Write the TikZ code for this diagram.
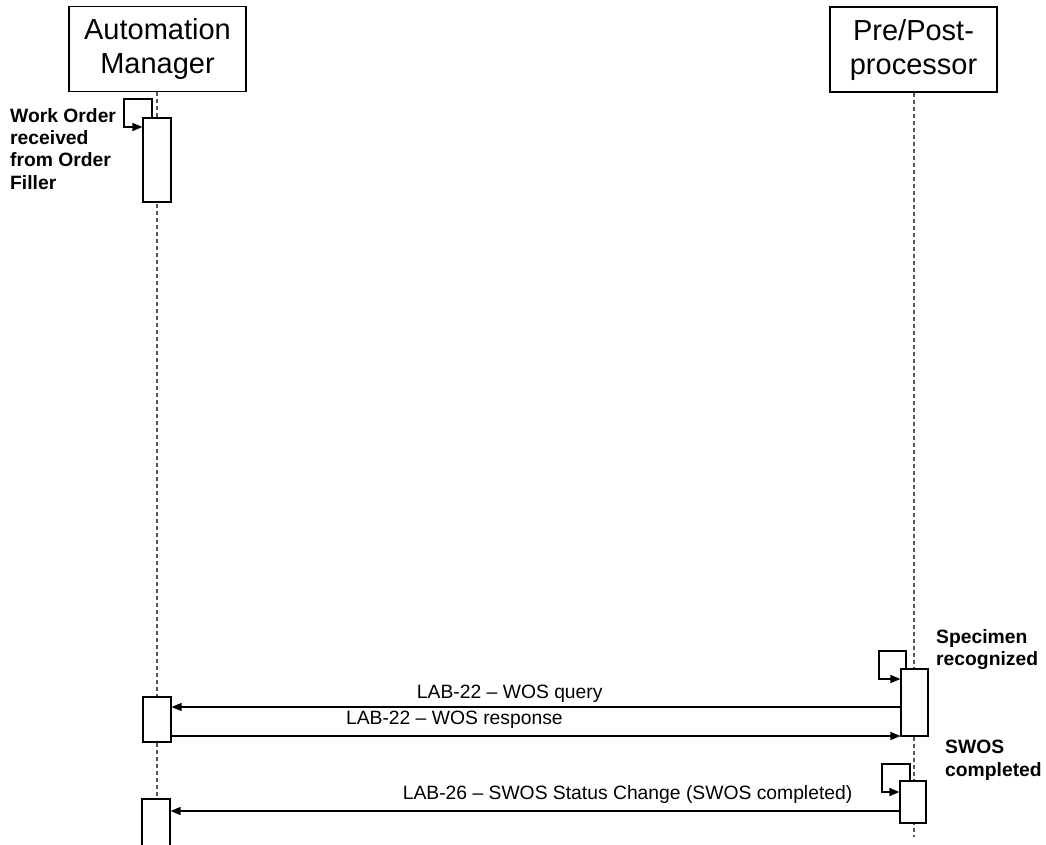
\documentclass[tikz,border=0pt]{standalone}
\usepackage{fontspec}
\setmainfont{Liberation Sans}
\usetikzlibrary{arrows.meta}
\definecolor{lifegray}{HTML}{555555}
\begin{document}
\begin{tikzpicture}[
  x=1pt,y=-1pt,
  >={Triangle[length=10pt,width=8pt]},
  actor/.style={draw,line width=1.3pt,minimum height=85pt,align=center,inner sep=0pt,
                font=\fontsize{29}{34}\selectfont},
  activation/.style={draw,line width=1.2pt,fill=white,minimum width=28pt,inner sep=0pt},
  life/.style={lifegray,line width=1.2pt,dash pattern=on 4pt off 3pt},
  msg/.style={->,line width=1.3pt},
  note/.style={font=\fontsize{19.3}{22.4}\selectfont\bfseries,align=left,
               anchor=north west,inner sep=0pt},
  lbl/.style={font=\fontsize{19.3}{22}\selectfont,anchor=base,inner sep=0pt}
]
\useasboundingbox (0,0) rectangle (1046,844);

% actors
\node[actor,minimum width=177pt] (am) at (157.5,49) {Automation\\Manager};
\node[actor,minimum width=167pt] (pp) at (913.5,49.5) {Pre/Post-\\processor};

% lifelines
\draw[life] (am.south -| 157,0) -- (157,844);
\draw[life] (pp.south -| 914,0) -- (914,837);

% activations
\node[activation,minimum height=84pt] (amorder) at (157,160) {};
\node[activation,minimum height=45pt] (amquery) at (157,719.5) {};
\node[activation,minimum height=62pt] (amstatus) at (156,830) {};
\node[activation,minimum width=27pt,minimum height=67pt] (ppspec) at (914.5,702.5) {};
\node[activation,minimum width=26pt,minimum height=42pt] (ppswos) at (913,802) {};

% self messages
\draw[msg] (amorder.north -| 152,0) |- (124,99) |- (amorder.west |- 0,127);
\draw[msg] (ppspec.north -| 906,0) |- (879,651) |- (ppspec.west |- 0,679);
\draw[msg] (ppswos.north -| 910,0) |- (882,764) |- (ppswos.west |- 0,792);

\node[note] (ordernote) at (10,108) {Work Order\\received\\from Order\\Filler};
\node[note] (specnote) at (936,629) {Specimen\\recognized};
\node[note] (swosnote) at (945,740) {SWOS\\completed};

% messages
\draw[msg] (ppspec.west |- 0,707) -- node[lbl,pos=0.536,yshift=9pt] {LAB-22 – WOS query} (amquery.east |- 0,707);
\draw[msg] (amquery.east |- 0,736) -- node[lbl,pos=0.388,yshift=12pt] {LAB-22 – WOS response} (ppspec.west |- 0,736);
\draw[msg] (ppswos.west |- 0,811) -- node[lbl,pos=0.373,yshift=12pt] {LAB-26 – SWOS Status Change (SWOS completed)} (amstatus.east |- 0,811);
\end{tikzpicture}
\end{document}
